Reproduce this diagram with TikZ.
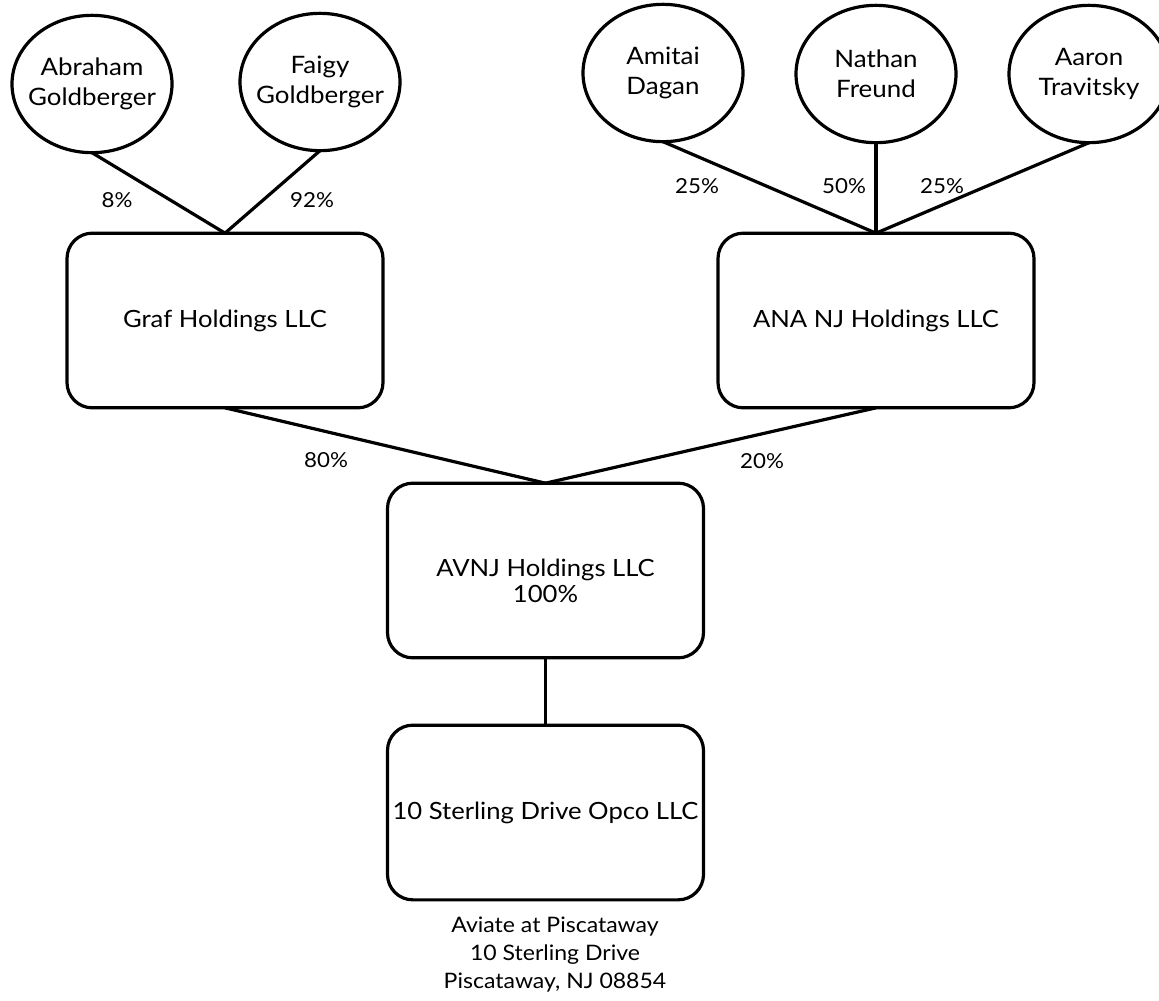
\documentclass[tikz,border=0pt]{standalone}
\usepackage{fontspec}
\setmainfont{Lato}[FakeStretch=1.08]
\usetikzlibrary{shapes.geometric}
\begin{document}
\begin{tikzpicture}[x=0.75pt,y=-0.75pt,
  person/.style={ellipse, draw, line width=2.4pt, minimum width=120pt, minimum height=103pt,
    inner sep=-7pt, outer sep=0pt, align=center, font=\fontsize{18}{22.5}\selectfont},
  entity/.style={rectangle, rounded corners=19pt, draw, line width=2.4pt, minimum width=237pt,
    minimum height=131pt, inner sep=0pt, outer sep=0pt, align=center, font=\fontsize{17.8}{19.5}\selectfont},
  pct/.style={font=\fontsize{15.5}{18}\selectfont, inner sep=0pt},
  link/.style={line width=2.4pt}]
\clip (0,0) rectangle (1159,1000);
% people
\node[person] (abr) at (92,84) {Abraham\\Goldberger};
\node[person] (fai) at (320,82) {Faigy\\Goldberger};
\node[person] (ami) at (663,73) {Amitai\\Dagan};
\node[person] (nat) at (876,74) {Nathan\\Freund};
\node[person] (aar) at (1089,74) {Aaron\\Travitsky};
% entities
\node[entity] (graf) at (225,320.5) {Graf Holdings LLC};
\node[entity] (ana) at (876,320.5) {ANA NJ Holdings LLC};
\node[entity, label={[name=avnjtext, align=center, yshift=-8pt, font=\fontsize{17.8}{19.5}\selectfont]center:AVNJ Holdings LLC\\100\%}] (avnj) at (545.5,570.5) {};
\node[entity] (opco) at (545.5,812.5) {10 Sterling Drive Opco LLC};
\node[align=center, font=\fontsize{16}{21}\selectfont] (addr) at (555,955) {Aviate at Piscataway\\10 Sterling Drive\\Piscataway, NJ 08854};
% connectors
\draw[link] (abr.south) -- (graf.north);
\draw[link] (fai.south) -- (graf.north);
\draw[link] (ami.south) -- (ana.north);
\draw[link] (nat.south) -- (ana.north);
\draw[link] (aar.south) -- (ana.north);
\draw[link] (graf.south) -- (avnj.north);
\draw[link] (ana.south) -- (avnj.north);
\draw[link] (avnj.south) -- (opco.north);
% percentages
\node[pct] (p1) at (117,200) {8\%};
\node[pct] (p2) at (312,200) {92\%};
\node[pct] (p3) at (697,186) {25\%};
\node[pct] (p4) at (844,186) {50\%};
\node[pct] (p5) at (942,186) {25\%};
\node[pct] (p6) at (326,460) {80\%};
\node[pct] (p7) at (762,461) {20\%};
\end{tikzpicture}
\end{document}
